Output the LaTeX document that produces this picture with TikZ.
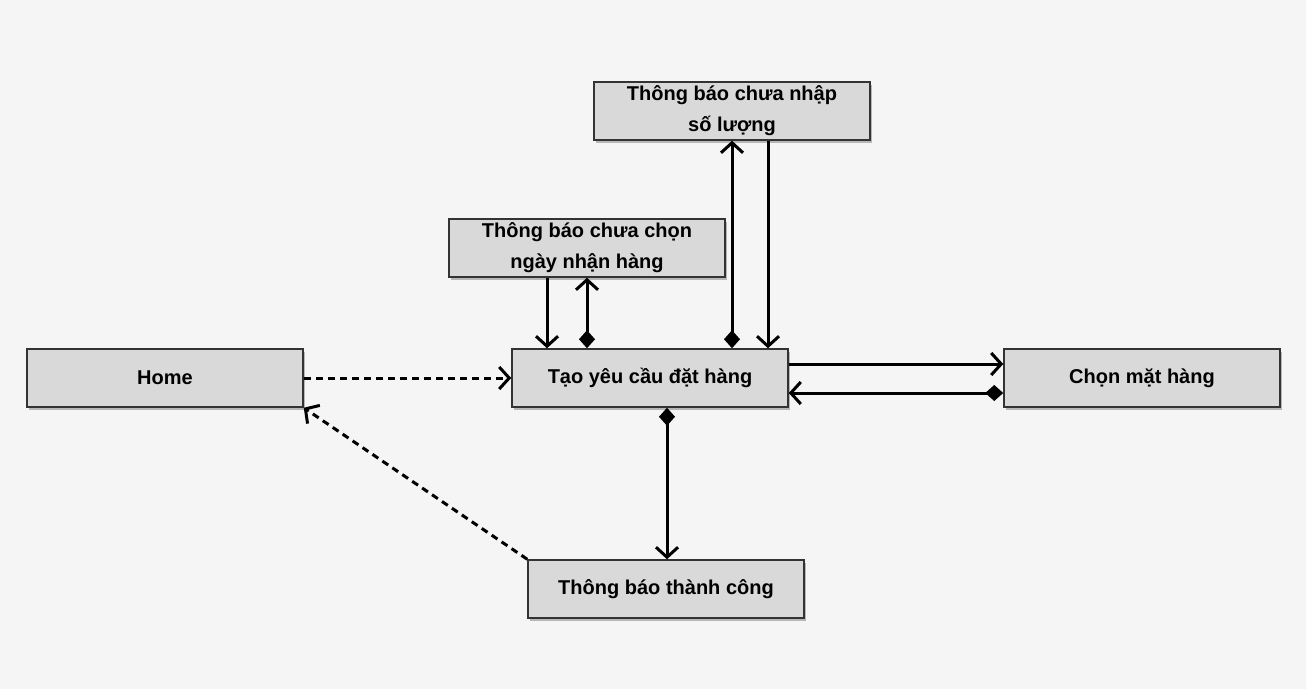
\documentclass[tikz,border=0pt]{standalone}
\usepackage{fontspec}
\setmainfont{Liberation Sans}
\usetikzlibrary{arrows.meta,shadows,calc}
\definecolor{bgc}{HTML}{F5F5F5}
\definecolor{boxc}{HTML}{D9D9D9}
\definecolor{edgec}{HTML}{333333}
\begin{document}
\begin{tikzpicture}[x=1pt,y=-1pt,
  box/.style={draw=edgec,line width=1.5pt,fill=boxc,minimum width=276pt,minimum height=58pt,
    inner sep=2pt,align=center,font=\fontsize{20}{30}\selectfont\bfseries,
    drop shadow={shadow xshift=2pt,shadow yshift=-3pt,opacity=0.25,fill=black}},
  conn/.style={line width=3pt,-{Straight Barb[length=10pt,width=22pt,line width=3pt]}},
  dconn/.style={line width=3pt,{Diamond[length=18pt,width=16pt]}-{Straight Barb[length=10pt,width=22pt,line width=3pt]}}]
\fill[bgc] (0,0) rectangle (1306,689);
\useasboundingbox (0,0) rectangle (1306,689);
\node[box] (nhap) at (732,111) {Thông báo chưa nhập\\[1pt]số lượng};
\node[box] (ngay) at (587,248) {Thông báo chưa chọn\\[1pt]ngày nhận hàng};
\node[box] (home) at (165,378) {\raisebox{-2pt}{Home}};
\node[box] (tao) at (650,378) {\raisebox{-2pt}{Tạo yêu cầu đặt hàng}};
\node[box] (chon) at (1142,378) {\raisebox{-2pt}{Chọn mặt hàng}};
\node[box] (thanh) at (666,589) {\raisebox{-2pt}{Thông báo thành công}};
% dashed
\draw[conn,dash pattern=on 7pt off 5pt] (home.east) -- (tao.west);
\draw[conn,dash pattern=on 7pt off 5pt] (thanh.north west) -- (home.south east);
% ngay
\draw[conn] ([xshift=-40pt]ngay.south) -- ([xshift=-40pt]ngay.south |- tao.north);
\draw[dconn] ([xshift=-63pt]tao.north) -- ([xshift=-63pt]tao.north |- ngay.south);
% nhap
\draw[dconn] ([xshift=82pt]tao.north) -- ([xshift=82pt]tao.north |- nhap.south);
\draw[conn] ([xshift=36pt]nhap.south) -- ([xshift=36pt]nhap.south |- tao.north);
% chon
\draw[conn] ([yshift=14pt]tao.east) -- ([yshift=14pt]tao.east -| chon.west);
\draw[dconn] ([yshift=-15pt]chon.west) -- ([yshift=-15pt]chon.west -| tao.east);
% thanh
\draw[dconn] ([xshift=17pt]tao.south) -- ([xshift=17pt]tao.south |- thanh.north);
\end{tikzpicture}
\end{document}
